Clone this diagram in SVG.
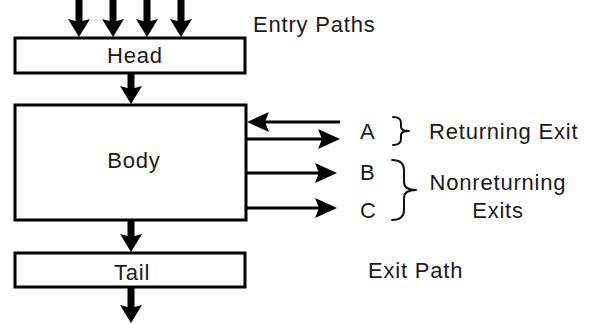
<svg xmlns="http://www.w3.org/2000/svg" width="593" height="324" viewBox="0 0 593 324">
  <defs>
    <style>
      .box { fill: #fff; stroke: #000; stroke-width: 3; }
      .thick { stroke: #000; stroke-width: 7; fill: none; }
      .thin { stroke: #000; stroke-width: 3; fill: none; }
      .brace { stroke: #111; stroke-width: 2; fill: none; stroke-linecap: round; stroke-linejoin: round; }
      text { font-family: "Liberation Sans", Arial, sans-serif; font-size: 22px; letter-spacing: 0.8px; fill: #1a1a1a; }
      .mid { text-anchor: middle; }
    </style>
    <marker id="bigHead" markerUnits="userSpaceOnUse" markerWidth="18" markerHeight="22" refX="3" refY="11" orient="auto" viewBox="0 0 18 22">
      <path d="M0,0 L18,11 L0,22 L3,11 z" fill="#000"/>
    </marker>
    <marker id="thinHead" markerUnits="userSpaceOnUse" markerWidth="22" markerHeight="20" refX="4" refY="10" orient="auto" viewBox="0 0 22 20">
      <path d="M0,0 L22,10 L0,20 L4,10 z" fill="#000"/>
    </marker>
  </defs>

  <g id="connectors">
    <!-- entry paths into the head -->
    <line class="thick" x1="79" y1="0" x2="79" y2="22" marker-end="url(#bigHead)"/>
    <line class="thick" x1="113" y1="0" x2="113" y2="22" marker-end="url(#bigHead)"/>
    <line class="thick" x1="147" y1="0" x2="147" y2="22" marker-end="url(#bigHead)"/>
    <line class="thick" x1="181" y1="0" x2="181" y2="22" marker-end="url(#bigHead)"/>
    <!-- head to body, body to tail, tail exit -->
    <line class="thick" x1="131" y1="73" x2="131" y2="89" marker-end="url(#bigHead)"/>
    <line class="thick" x1="131" y1="220" x2="131" y2="237" marker-end="url(#bigHead)"/>
    <line class="thick" x1="131" y1="287" x2="131" y2="308" marker-end="url(#bigHead)"/>
    <!-- side exits -->
    <line class="thin" x1="340" y1="122" x2="265" y2="122" marker-end="url(#thinHead)"/>
    <line class="thin" x1="246" y1="139" x2="322" y2="139" marker-end="url(#thinHead)"/>
    <line class="thin" x1="246" y1="173" x2="319" y2="173" marker-end="url(#thinHead)"/>
    <line class="thin" x1="246" y1="208" x2="319" y2="208" marker-end="url(#thinHead)"/>
  </g>

  <g id="head">
    <rect class="box" x="15" y="38" width="230" height="35"/>
    <text class="mid" x="135" y="63">Head</text>
  </g>

  <g id="body">
    <rect class="box" x="15" y="105" width="231" height="115"/>
    <text class="mid" x="134" y="168">Body</text>
  </g>

  <g id="tail">
    <rect class="box" x="15" y="253" width="230" height="34"/>
    <text class="mid" x="132" y="280">Tail</text>
  </g>

  <g id="labels">
    <text x="253" y="32">Entry Paths</text>
    <text x="360" y="139">A</text>
    <text x="360" y="180">B</text>
    <text x="360" y="218">C</text>
    <path class="brace" d="M393,117 Q401,117 401,123 L401,127 Q401,131 409,131 Q401,131 401,135 L401,139 Q401,145 393,145"/>
    <text x="429" y="139">Returning Exit</text>
    <path class="brace" d="M392,160 Q404,160 404,170 L404,182 Q404,190 416,190 Q404,190 404,198 L404,210 Q404,220 392,220"/>
    <text class="mid" x="498" y="190">Nonreturning</text>
    <text class="mid" x="498" y="218">Exits</text>
    <text x="368" y="278">Exit Path</text>
  </g>
</svg>
